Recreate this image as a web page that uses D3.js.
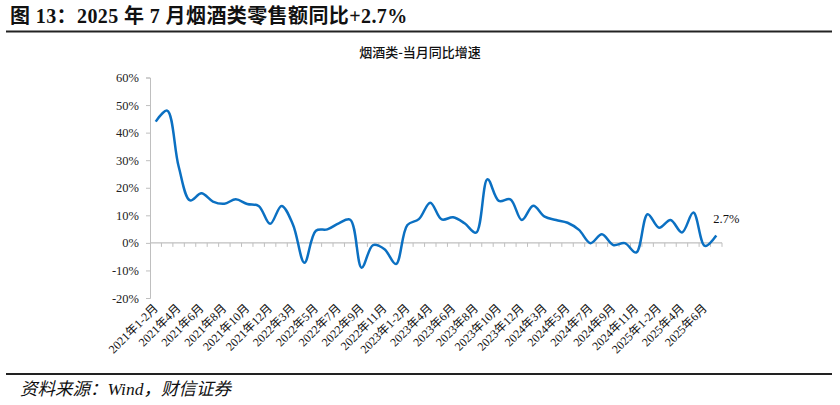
<!DOCTYPE html>
<html lang="zh">
<head>
  <meta charset="UTF-8">
  <title>烟酒类零售额同比</title>
  <script src="https://cdn.jsdelivr.net/npm/d3@7"></script>
  <style>
    html, body { margin: 0; padding: 0; background: #fff; }
    svg { display: block; }
    .serif { font-family: "Liberation Serif", "Noto Sans CJK SC", serif; }
  </style>
</head>
<body>
  <div id="chart"></div>
  <script>
    // categories: monthly, Jan-Feb combined
    const categories = [
      '2021年1-2月','2021年3月','2021年4月','2021年5月','2021年6月','2021年7月','2021年8月','2021年9月','2021年10月','2021年11月','2021年12月',
      '2022年1-2月','2022年3月','2022年4月','2022年5月','2022年6月','2022年7月','2022年8月','2022年9月','2022年10月','2022年11月','2022年12月',
      '2023年1-2月','2023年3月','2023年4月','2023年5月','2023年6月','2023年7月','2023年8月','2023年9月','2023年10月','2023年11月','2023年12月',
      '2024年1-2月','2024年3月','2024年4月','2024年5月','2024年6月','2024年7月','2024年8月','2024年9月','2024年10月','2024年11月','2024年12月',
      '2025年1-2月','2025年3月','2025年4月','2025年5月','2025年6月','2025年7月'
    ];
    // 烟酒类-当月同比增速 (%)
    const yoy = [
      44.0, 48.0, 27.8, 15.4, 18.0, 15.0, 14.2, 15.8, 14.1, 13.4, 6.9,
      13.4, 6.6, -7.2, 4.4, 4.9, 7.1, 8.4, -9.0, -0.8, -2.3, -7.7,
      6.5, 8.6, 14.6, 8.5, 9.3, 7.1, 3.7, 23.1, 15.2, 15.8, 8.3,
      13.5, 9.5, 8.3, 7.3, 4.7, -0.1, 3.1, -0.8, -0.1, -3.5, 10.4,
      5.5, 8.3, 3.8, 11.0, -1.1, 2.7
    ];
    const yTicks = [-20, -10, 0, 10, 20, 30, 40, 50, 60];
    const title = '图 13：2025 年 7 月烟酒类零售额同比+2.7%';
    const subtitle = '烟酒类-当月同比增速';
    const source = '资料来源：Wind，财信证券';

    const W = 840, H = 405;
    const plot = { left: 150, right: 722, top: 77.5, bottom: 298 };

    const svg = d3.select('#chart').append('svg')
      .attr('width', W).attr('height', H);

    // header
    svg.append('text')
      .attr('class', 'serif')
      .attr('x', 10).attr('y', 23)
      .attr('font-size', '20px').attr('font-weight', 'bold')
      .attr('letter-spacing', '0.4px')
      .attr('fill', '#111')
      .text(title);
    svg.append('line')
      .attr('x1', 6).attr('x2', 832).attr('y1', 31.5).attr('y2', 31.5)
      .attr('stroke', '#222').attr('stroke-width', 2);

    svg.append('text')
      .attr('x', 420).attr('y', 57)
      .attr('text-anchor', 'middle')
      .attr('font-family', '"Noto Sans CJK SC", sans-serif')
      .attr('font-size', '13px').attr('font-weight', 500)
      .attr('fill', '#111')
      .text(subtitle);

    const x = d3.scaleBand().domain(categories).range([plot.left, plot.right]);
    const y = d3.scaleLinear().domain([-20, 60]).range([plot.bottom, plot.top]);

    // y axis
    const yAxis = svg.append('g')
      .attr('transform', `translate(${plot.left},0)`)
      .call(d3.axisLeft(y).tickValues(yTicks).tickSize(4).tickPadding(7).tickFormat(d => d + '%'));
    yAxis.selectAll('path, line').attr('stroke', '#bfbfbf');
    yAxis.selectAll('text')
      .attr('class', 'serif')
      .attr('font-size', '12.5px').attr('fill', '#222');

    // zero line with category boundary ticks
    const y0 = y(0);
    svg.append('line')
      .attr('x1', plot.left).attr('x2', plot.right)
      .attr('y1', y0).attr('y2', y0)
      .attr('stroke', '#bfbfbf').attr('stroke-width', 1.3);
    const bounds = categories.map(c => x(c)).concat([x(categories[categories.length - 1]) + x.bandwidth()]);
    svg.append('g').selectAll('line')
      .data(bounds.slice(1))
      .join('line')
      .attr('x1', d => d).attr('x2', d => d)
      .attr('y1', y0).attr('y2', y0 + 4)
      .attr('stroke', '#bfbfbf');

    // x labels (every second category), at the bottom of the plot
    const cx = c => x(c) + x.bandwidth() / 2;
    svg.append('g').selectAll('text')
      .data(categories.filter((c, i) => i % 2 === 0))
      .join('text')
      .attr('class', 'serif')
      .attr('font-size', '12px').attr('fill', '#111')
      .attr('text-anchor', 'end')
      .attr('transform', d => `translate(${cx(d) + 3},${plot.bottom + 11}) rotate(-45)`)
      .text(d => d);

    // line
    const line = d3.line()
      .x((d, i) => cx(categories[i]))
      .y(d => y(d))
      .curve(d3.curveCatmullRom.alpha(0.5));
    svg.append('path')
      .datum(yoy)
      .attr('d', line)
      .attr('fill', 'none')
      .attr('stroke', '#0b70c2')
      .attr('stroke-width', 2.5);

    // last value label
    const last = yoy.length - 1;
    svg.append('text')
      .attr('class', 'serif')
      .attr('x', cx(categories[last]) - 3)
      .attr('y', y(yoy[last]) - 12)
      .attr('font-size', '12.5px').attr('fill', '#111')
      .text(yoy[last].toFixed(1) + '%');

    // footer
    svg.append('line')
      .attr('x1', 6).attr('x2', 832).attr('y1', 374).attr('y2', 374)
      .attr('stroke', '#222').attr('stroke-width', 2);
    svg.append('text')
      .attr('class', 'serif')
      .attr('x', 20).attr('y', 395)
      .attr('font-size', '17.5px').attr('font-style', 'italic')
      .attr('fill', '#111')
      .text(source);
  </script>
</body>
</html>
